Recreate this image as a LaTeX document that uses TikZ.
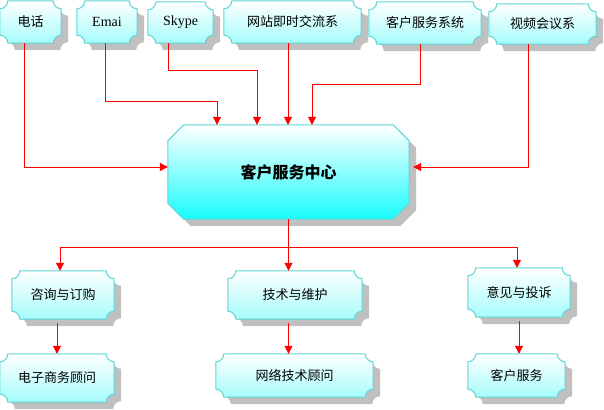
\documentclass[tikz,border=0pt]{standalone}
\usepackage{fontspec}
\setmainfont{Liberation Serif}
\newfontfamily\cjk{Noto Sans CJK SC}
\usepackage{tikz}
\usetikzlibrary{arrows.meta,backgrounds,calc}
\definecolor{boxline}{HTML}{5ED6D6}
\definecolor{boxcyan}{HTML}{A6FCFC}
\definecolor{hubcyan}{HTML}{18FCFC}
\definecolor{shadowgray}{HTML}{C0C0C0}
\definecolor{linkred}{HTML}{FF0000}
\tikzset{
  boxtext/.style={inner sep=0pt, font=\cjk\fontsize{13}{15}\selectfont},
  size/.style 2 args={minimum width=#1pt, minimum height=#2pt},
  boxfill/.style={draw=boxline, line width=1pt, top color=white, bottom color=boxcyan},
  link/.style={draw=linkred, line width=1pt, -{Triangle[length=8pt,width=8pt]}},
  scoop/.style={insert path={
    ([xshift=8pt]#1.north west) -- ([xshift=-8pt]#1.north east)
    .. controls ([xshift=-8pt,yshift=-4.4pt]#1.north east) and ([xshift=-4.4pt,yshift=-8pt]#1.north east) .. ([yshift=-8pt]#1.north east)
    -- ([yshift=8pt]#1.south east)
    .. controls ([xshift=-4.4pt,yshift=8pt]#1.south east) and ([xshift=-8pt,yshift=4.4pt]#1.south east) .. ([xshift=-8pt]#1.south east)
    -- ([xshift=8pt]#1.south west)
    .. controls ([xshift=8pt,yshift=4.4pt]#1.south west) and ([xshift=4.4pt,yshift=8pt]#1.south west) .. ([yshift=8pt]#1.south west)
    -- ([yshift=-8pt]#1.north west)
    .. controls ([xshift=4.4pt,yshift=-8pt]#1.north west) and ([xshift=8pt,yshift=-4.4pt]#1.north west) .. cycle}},
  chamfer/.style={insert path={
    ([xshift=16pt]#1.north west) -- ([xshift=-16pt]#1.north east) -- ([yshift=-16pt]#1.north east)
    -- ([yshift=16pt]#1.south east) -- ([xshift=-16pt]#1.south east) -- ([xshift=16pt]#1.south west)
    -- ([yshift=16pt]#1.south west) -- ([yshift=-16pt]#1.north west) -- cycle}}
}

\begin{document}
\begin{tikzpicture}[x=1pt, y=-1pt]
    \useasboundingbox (0,0) rectangle (604,409);

    % channels
    \node[boxtext, size={61}{42}] (tel) at (30.5,22) {电话};
    \node[boxtext, size={60}{42}, font=\fontsize{14}{16}\selectfont] (email) at (107,22) {Emai};
    \node[boxtext, size={65}{41}, font=\fontsize{14}{16}\selectfont] (skype) at (180.5,22.5) {Skype};
    \node[boxtext, size={137}{42}] (web) at (292.5,22) {网站即时交流系};
    \node[boxtext, size={112}{42}] (crm) at (425,23) {客户服务系统};
    \node[boxtext, size={107}{40}] (video) at (542.5,24) {视频会议系};

    % centre
    \node[boxtext, size={241}{94}, font=\cjk\bfseries\fontsize{16}{18}\selectfont] (hub) at (288.5,172) {客户服务中心};

    % services
    \node[boxtext, size={102}{48}] (order) at (63,295) {咨询与订购};
    \node[boxtext, size={134}{48}] (support) at (295,295) {技术与维护};
    \node[boxtext, size={102}{49}] (complaint) at (519,292.5) {意见与投诉};
    \node[boxtext, size={114}{48}] (ecom) at (57,378) {电子商务顾问};
    \node[boxtext, size={157}{43}] (network) at (294.5,375.5) {网络技术顾问};
    \node[boxtext, size={97}{43}] (service) at (516.5,375.5) {客户服务};

    \begin{scope}[on background layer]
      \foreach \n in {tel,email,skype,web,crm,video,order,support,complaint,ecom,network,service}{
        \fill[shadowgray, transform canvas={xshift=7pt,yshift=-7pt}] [scoop=\n];
        \path[boxfill] [scoop=\n];
      }
      \fill[shadowgray, transform canvas={xshift=7pt,yshift=-7pt}] [chamfer=hub];
      \path[boxfill, bottom color=hubcyan] [chamfer=hub];
    \end{scope}

    % inputs
    \draw[link] ([xshift=-6.5pt]tel.south) |- ([yshift=5pt]hub.west);
    \draw[link] ([xshift=-2pt]email.south) -- ++(0,58) -| ([xshift=-71.5pt]hub.north);
    \draw[link] ([xshift=-12.5pt]skype.south) -- ++(0,27) -| ([xshift=-31.5pt]hub.north);
    \draw[link] ([xshift=-4.5pt]web.south) -- ([xshift=-0.5pt]hub.north);
    \draw[link] ([xshift=-5pt]crm.south) -- ++(0,40) -| ([xshift=23.5pt]hub.north);
    \draw[link] ([xshift=-14.5pt]video.south) |- ([xshift=4pt,yshift=5pt]hub.east);

    % outputs
    \draw[linkred, line width=1pt] (hub.south) -- ++(0,28) coordinate (fork);
    \draw[link] (fork) -| ([xshift=-3pt]order.north);
    \draw[link] (fork) -- (fork |- support.north);
    \draw[link] (fork) -| ([xshift=-2pt]complaint.north);
    \draw[link, shorten <=4pt] (ecom.north |- order.south) -- (ecom.north);
    \draw[link, shorten <=4pt] (fork |- support.south) -- (fork |- network.north);
    \draw[link, shorten <=4pt] (complaint.south) -- (complaint.south |- service.north);
\end{tikzpicture}
\end{document}
